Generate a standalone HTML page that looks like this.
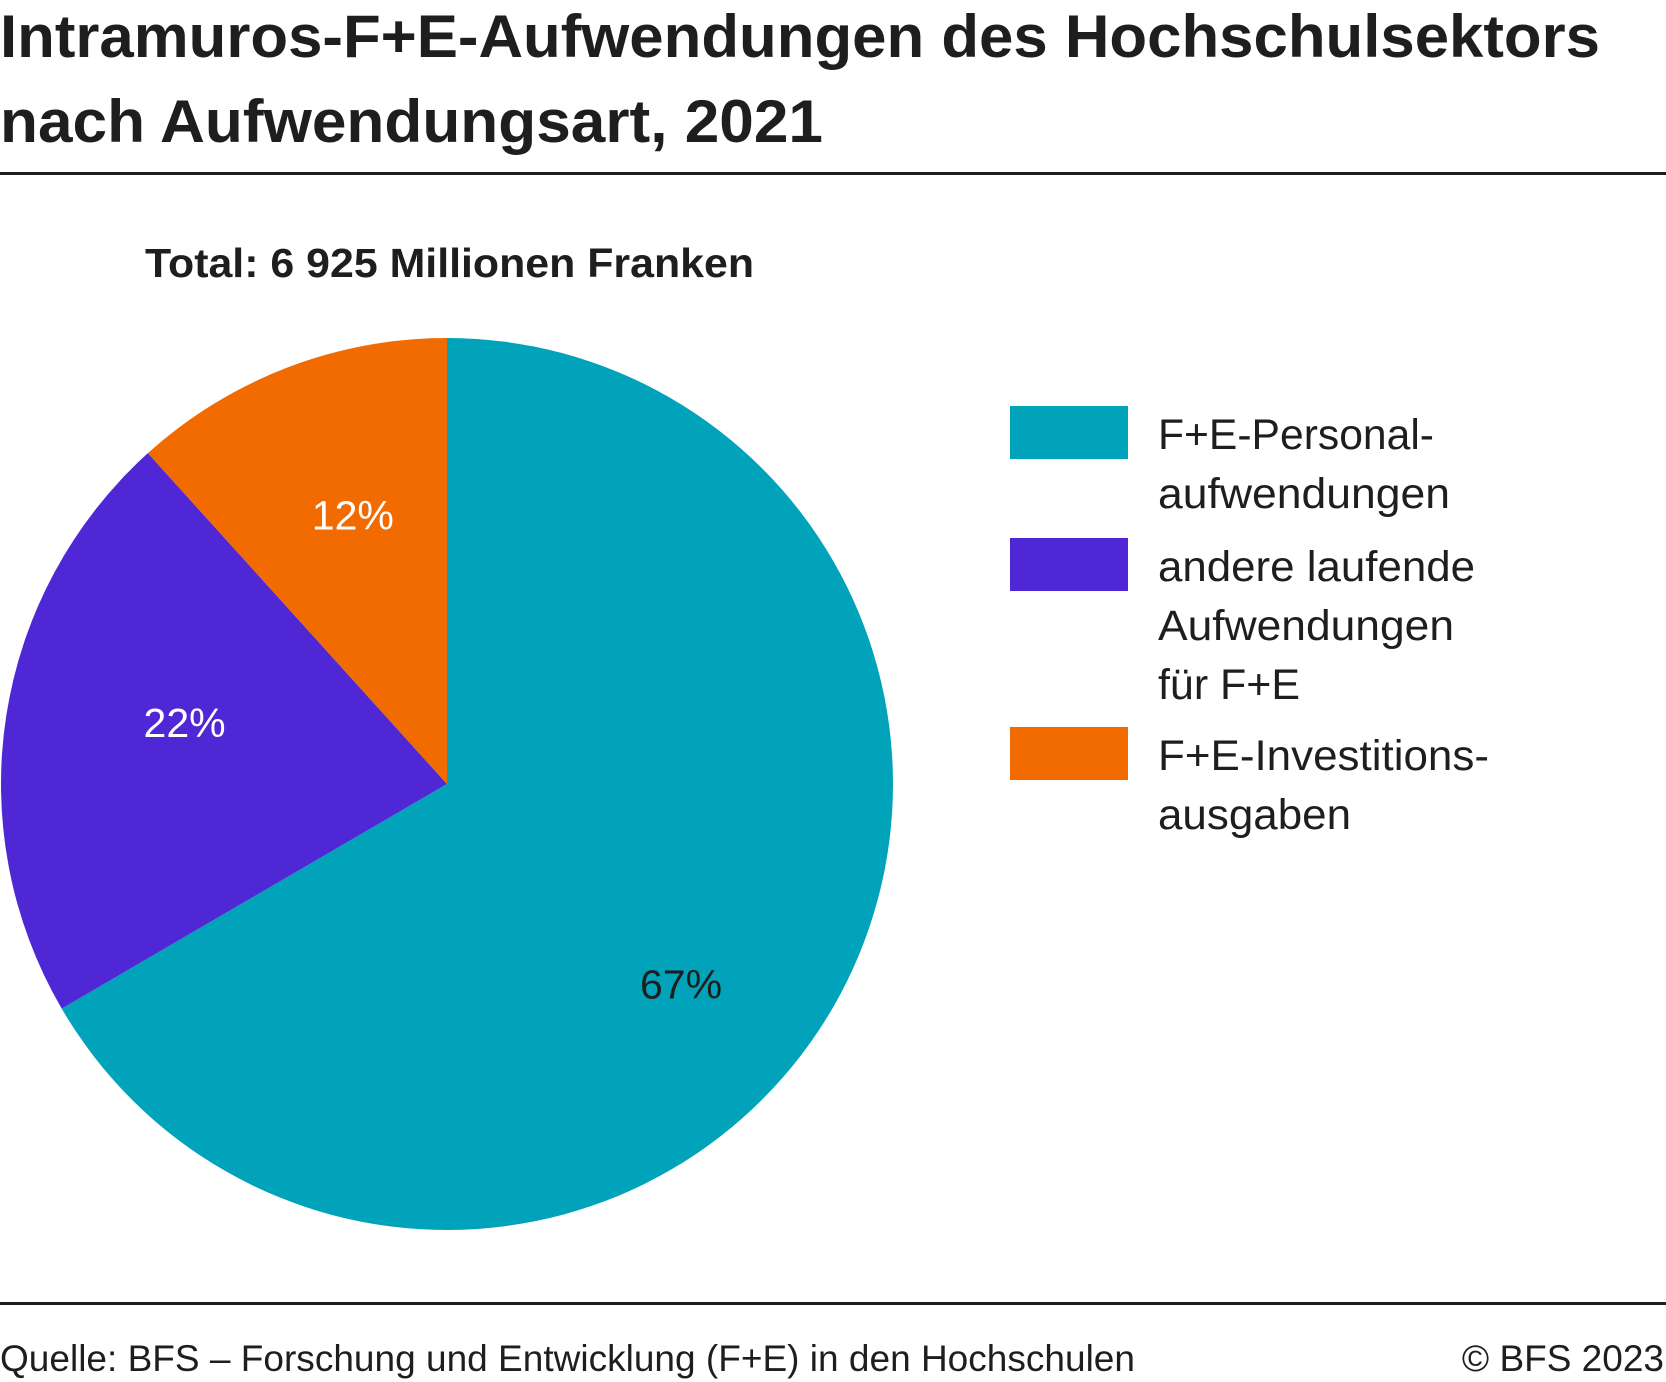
<!DOCTYPE html>
<html><head><meta charset="utf-8"><style>
html,body{margin:0;padding:0;background:#fff;}
svg{display:block;font-family:"Liberation Sans",sans-serif;}
</style></head><body>
<svg width="1666" height="1382" viewBox="0 0 1666 1382">
<text x="0" y="57" font-size="60" font-weight="bold" fill="#1e1e1e" textLength="1600" lengthAdjust="spacingAndGlyphs">Intramuros-F+E-Aufwendungen des Hochschulsektors</text>
<text x="0" y="142" font-size="60" font-weight="bold" fill="#1e1e1e" textLength="823" lengthAdjust="spacingAndGlyphs">nach Aufwendungsart, 2021</text>
<rect x="0" y="172" width="1666" height="3" fill="#1e1e1e"/>
<text x="145" y="277" font-size="41" font-weight="bold" fill="#1e1e1e" textLength="609" lengthAdjust="spacingAndGlyphs">Total: 6 925 Millionen Franken</text>
<g id="pie"></g>
<g id="legend"></g>
<rect x="0" y="1302" width="1666" height="3" fill="#1e1e1e"/>
<text x="0" y="1371" font-size="37" fill="#1e1e1e" textLength="1135" lengthAdjust="spacingAndGlyphs">Quelle: BFS – Forschung und Entwicklung (F+E) in den Hochschulen</text>
<text x="1664" y="1371" font-size="37" fill="#1e1e1e" text-anchor="end">© BFS 2023</text>
</svg>
<script>
const categories = ["F+E-Personalaufwendungen", "andere laufende Aufwendungen für F+E", "F+E-Investitionsausgaben"];
const shares = [66.6, 21.7, 11.7];
const printedLabels = ["67%", "22%", "12%"];
const colors = ["#00a3ba", "#4f27d4", "#f26b00"];
const labelColors = ["#1e1e1e", "#ffffff", "#ffffff"];
const legendLines = [["F+E-Personal-","aufwendungen"],["andere laufende","Aufwendungen","für F+E"],["F+E-Investitions-","ausgaben"]];

const NS="http://www.w3.org/2000/svg";
const cx=447, cy=784, r=446;
const labelShiftY=[66,-21,-20];
const total=shares.reduce((a,b)=>a+b,0);
function pt(frac,rad){const a=frac*2*Math.PI;return [cx+rad*Math.sin(a), cy-rad*Math.cos(a)];}
const pie=document.getElementById('pie');
let acc=0;
shares.forEach((v,i)=>{
  const f0=acc/total, f1=(acc+v)/total; acc+=v;
  const [x0,y0]=pt(f0,r),[x1,y1]=pt(f1,r);
  const large=(f1-f0)>0.5?1:0;
  const p=document.createElementNS(NS,'path');
  p.setAttribute('d',`M${cx},${cy}L${x0},${y0}A${r},${r} 0 ${large} 1 ${x1},${y1}Z`);
  p.setAttribute('fill',colors[i]);
  
  
  pie.appendChild(p);
  const [lx,ly]=pt((f0+f1)/2,r*0.6);
  const t=document.createElementNS(NS,'text');
  t.setAttribute('x',lx+2);t.setAttribute('y',ly+15+labelShiftY[i]);
  t.setAttribute('text-anchor','middle');t.setAttribute('font-size','41');
  t.setAttribute('fill',labelColors[i]);
  t.textContent=printedLabels[i];
  
  
  pie.appendChild(t);
});
const leg=document.getElementById('legend');
const swY=[406,538,727];
const lineW=[[276,292],[317,296,142],[331,193]];
legendLines.forEach((lines,i)=>{
  const s=document.createElementNS(NS,'rect');
  s.setAttribute('x',1010);s.setAttribute('y',swY[i]);s.setAttribute('width',118);s.setAttribute('height',53);
  s.setAttribute('fill',colors[i]);
  
  
  leg.appendChild(s);
  lines.forEach((ln,j)=>{
    const t=document.createElementNS(NS,'text');
    t.setAttribute('x',1158);t.setAttribute('y',swY[i]+43+j*59);
    t.setAttribute('font-size','43');t.setAttribute('fill','#1e1e1e');
    t.setAttribute('textLength',lineW[i][j]);t.setAttribute('lengthAdjust','spacingAndGlyphs');
    t.textContent=ln;
    
    
    leg.appendChild(t);
  });
});
</script>
</body></html>
